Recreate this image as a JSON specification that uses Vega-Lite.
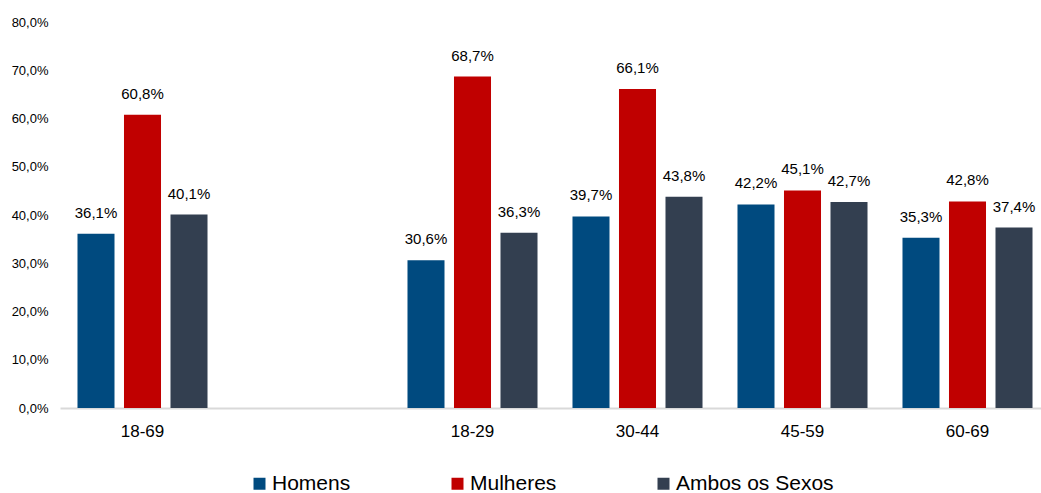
{
  "$schema": "https://vega.github.io/schema/vega-lite/v6.json",
  "width": 990,
  "height": 386,
  "autosize": {"type": "none"},
  "padding": {"left": 60, "top": 22, "right": 0, "bottom": 85},
  "background": "white",
  "config": {
    "locale": {"number": {"decimal": ",", "thousands": ".", "grouping": [3], "currency": ["", ""]}},
    "font": "Liberation Sans",
    "view": {"stroke": null}
  },
  "data": {
    "values": [
      {"idade": "18-69", "sexo": "Homens", "valor": 0.361},
      {"idade": "18-69", "sexo": "Mulheres", "valor": 0.608},
      {"idade": "18-69", "sexo": "Ambos os Sexos", "valor": 0.401},
      {"idade": "18-29", "sexo": "Homens", "valor": 0.306},
      {"idade": "18-29", "sexo": "Mulheres", "valor": 0.687},
      {"idade": "18-29", "sexo": "Ambos os Sexos", "valor": 0.363},
      {"idade": "30-44", "sexo": "Homens", "valor": 0.397},
      {"idade": "30-44", "sexo": "Mulheres", "valor": 0.661},
      {"idade": "30-44", "sexo": "Ambos os Sexos", "valor": 0.438},
      {"idade": "45-59", "sexo": "Homens", "valor": 0.422},
      {"idade": "45-59", "sexo": "Mulheres", "valor": 0.451},
      {"idade": "45-59", "sexo": "Ambos os Sexos", "valor": 0.427},
      {"idade": "60-69", "sexo": "Homens", "valor": 0.353},
      {"idade": "60-69", "sexo": "Mulheres", "valor": 0.428},
      {"idade": "60-69", "sexo": "Ambos os Sexos", "valor": 0.374}
    ]
  },
  "encoding": {
    "x": {
      "field": "idade",
      "type": "nominal",
      "sort": null,
      "scale": {"domain": ["18-69", " ", "18-29", "30-44", "45-59", "60-69"], "paddingInner": 0.212, "paddingOuter": 0.106},
      "axis": {
        "title": null,
        "labelAngle": 0,
        "labelFontSize": 17,
        "labelColor": "#000000",
        "labelPadding": 15,
        "ticks": false,
        "domainColor": "#d9d9d9",
        "domainWidth": 2,
        "grid": false
      }
    },
    "xOffset": {
      "field": "sexo",
      "type": "nominal",
      "sort": ["Homens", "Mulheres", "Ambos os Sexos"],
      "scale": {"paddingInner": 0.204, "paddingOuter": 0}
    },
    "y": {
      "field": "valor",
      "type": "quantitative",
      "scale": {"domain": [0, 0.8], "nice": false},
      "axis": {
        "title": null,
        "format": ".1%",
        "values": [0, 0.1, 0.2, 0.3, 0.4, 0.5, 0.6, 0.7, 0.8],
        "labelFontSize": 13,
        "labelColor": "#000000",
        "labelPadding": 12,
        "ticks": false,
        "domain": false,
        "grid": false
      }
    }
  },
  "layer": [
    {
      "mark": {"type": "bar"},
      "encoding": {
        "color": {
          "field": "sexo",
          "type": "nominal",
          "sort": ["Homens", "Mulheres", "Ambos os Sexos"],
          "scale": {"domain": ["Homens", "Mulheres", "Ambos os Sexos"], "range": ["#004A7F", "#C00000", "#333F50"]},
          "legend": {
            "title": null,
            "orient": "none",
            "direction": "horizontal",
            "legendX": 189,
            "legendY": 451,
            "symbolType": "square",
            "symbolSize": 144,
            "symbolStrokeWidth": 0,
            "symbolOpacity": 1,
            "labelFontSize": 21,
            "labelColor": "#000000",
            "labelOffset": 2,
            "columnPadding": 96
          }
        }
      }
    },
    {
      "mark": {"type": "text", "baseline": "alphabetic", "dy": -16, "fontSize": 15, "color": "#000000"},
      "encoding": {
        "text": {"field": "valor", "type": "quantitative", "format": ".1%"}
      }
    }
  ]
}
